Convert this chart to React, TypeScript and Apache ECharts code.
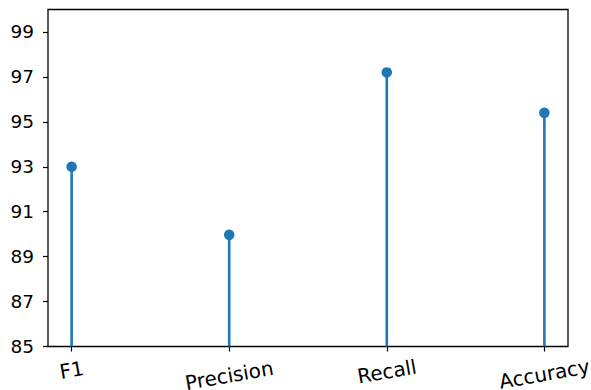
import React, { useEffect, useRef } from "react";
import * as echarts from "echarts";

const categories = ["F1", "Precision", "Recall", "Accuracy"];
const values = [93.0, 89.97, 97.2, 95.4];
const yTickValues = [85, 87, 89, 91, 93, 95, 97, 99];
const categoryPositions = [0, 1, 2, 3];

export default function App() {
  const ref = useRef<HTMLDivElement>(null);
  useEffect(() => {
    const chart = echarts.init(ref.current!, null, { renderer: "svg" });
    const font = "'DejaVu Sans', sans-serif";
    const blue = "#1f77b4";
    const xMin = -0.15;
    const xMax = 3.15;
    const points = values.map((v, i) => [categoryPositions[i], v]);
    // distance of each rotated label's centre below the axis (matplotlib places the
    // top of the rotated box at a fixed gap, so longer labels sit lower)
    const labelMargins = [23.5, 29, 25, 27.5];

    const mainX = {
      type: "value",
      min: xMin,
      max: xMax,
      position: "bottom",
      splitLine: { show: false },
      axisLine: { show: false, onZero: false },
      axisTick: {
        show: true,
        length: 5,
        customValues: categoryPositions,
        lineStyle: { color: "#000", width: 1.2 },
      },
      axisLabel: { show: false },
    };
    const labelAxes = categories.map((_, i) => ({
      type: "value",
      min: xMin,
      max: xMax,
      position: "bottom",
      offset: 0,
      splitLine: { show: false },
      axisLine: { show: false, onZero: false },
      axisTick: { show: false },
      axisLabel: {
        customValues: [categoryPositions[i]],
        rotate: 10,
        align: "center",
        verticalAlign: "middle",
        margin: labelMargins[i],
        fontSize: 20,
        fontFamily: font,
        color: "#000",
        formatter: () => categories[i],
      },
    }));

    chart.setOption({
      animation: false,
      grid: {
        left: 48,
        right: 23,
        top: 9.5,
        bottom: 43.5,
        show: true,
        borderColor: "#000",
        borderWidth: 1.3,
        backgroundColor: "transparent",
        containLabel: false,
        outerBoundsMode: "none",
      },
      xAxis: [mainX, ...labelAxes],
      yAxis: {
        type: "value",
        min: 85,
        max: 100,
        splitLine: { show: false },
        axisLine: { show: false, onZero: false },
        axisTick: {
          show: true,
          length: 5,
          customValues: yTickValues,
          lineStyle: { color: "#000", width: 1.2 },
        },
        axisLabel: {
          customValues: yTickValues,
          margin: 14,
          fontSize: 18.5,
          fontFamily: font,
          color: "#000",
        },
      },
      series: [
        {
          type: "custom",
          xAxisIndex: 0,
          data: points,
          renderItem: (params: any, api: any) => {
            const x = api.value(0);
            const y = api.value(1);
            const p0 = api.coord([x, 85]);
            const p1 = api.coord([x, y]);
            return {
              type: "line",
              shape: { x1: p0[0], y1: p0[1], x2: p1[0], y2: p1[1] },
              style: { stroke: blue, lineWidth: 2.6 },
            };
          },
          z: 2,
        },
        {
          type: "scatter",
          xAxisIndex: 0,
          data: points,
          symbol: "circle",
          symbolSize: 10.5,
          itemStyle: { color: blue, opacity: 1 },
          z: 3,
        },
      ],
    });
    return () => chart.dispose();
  }, []);
  return (
    <div
      ref={ref}
      style={{ position: "fixed", left: 0, top: 0, width: 591, height: 390, background: "#fff" }}
    />
  );
}
